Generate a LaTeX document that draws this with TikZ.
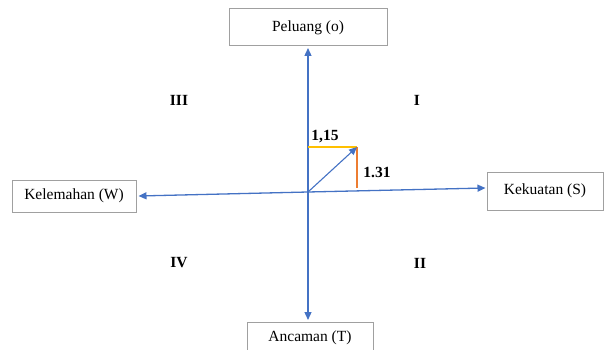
\documentclass[tikz,border=0pt]{standalone}
\usepackage{fontspec}
\setmainfont{Liberation Serif}
\usetikzlibrary{arrows.meta}
\definecolor{axisblue}{RGB}{68,114,196}
\definecolor{boxgray}{RGB}{160,160,160}
\definecolor{lineyellow}{RGB}{255,192,0}
\definecolor{lineorange}{RGB}{237,125,49}
\tikzset{
  factor/.style={draw=boxgray,line width=1pt,fill=white,inner sep=0pt,font=\fontsize{15.5}{18}\selectfont},
  axis/.style={axisblue,line width=1.3pt,-{Triangle[length=8pt,width=7pt]}},
  quad/.style={font=\fontsize{15.5}{18}\selectfont\bfseries},
}
\begin{document}
\begin{tikzpicture}[x=1pt,y=-1pt]
            \useasboundingbox (0,0) rectangle (605,350);
            % SWOT boxes
            \node [factor,minimum width=158pt,minimum height=37pt] (peluang) at (308,27.5) {Peluang (o)};
            \node [factor,minimum width=116pt,minimum height=38pt] (kekuatan) at (545,191) {Kekuatan (S)};
            \node [factor,minimum width=124pt,minimum height=32pt] (kelemahan) at (74,196) {Kelemahan (W)};
            \node [factor,minimum width=126pt,minimum height=32pt] (ancaman) at (310,338) {Ancaman (T)};
            \coordinate (o) at (308,192);
            \coordinate (v) at (357,147);
            % axes
            \draw [axis] (o) -- ([yshift=-1.5pt]peluang.south -| o);
            \draw [axis] (o) -- ([yshift=1.5pt]ancaman.north -| o);
            \draw [axis] (o) -- ([xshift=-1pt,yshift=3pt]kekuatan.west);
            \draw [axis] (o) -- ([xshift=2pt]kelemahan.east);
            % position vector
            \draw [lineyellow,line width=1.3pt] (o |- v) -- (v);
            \draw [lineorange,line width=1.1pt] (v) -- ([yshift=4pt]v |- o);
            \draw [axisblue,line width=1.1pt,-{Triangle[length=8pt,width=7pt]}] (o) -- (v);
            \node [quad] (x) at (325,137) {1,15};
            \node [quad] (y) at (377,172) {1.31};
            % quadrants
            \node [quad] (q1) at (417,100) {I};
            \node [quad] (q2) at (420,263) {II};
            \node [quad] (q3) at (179,100) {III};
            \node [quad] (q4) at (179,263) {IV};
        \end{tikzpicture}
\end{document}
